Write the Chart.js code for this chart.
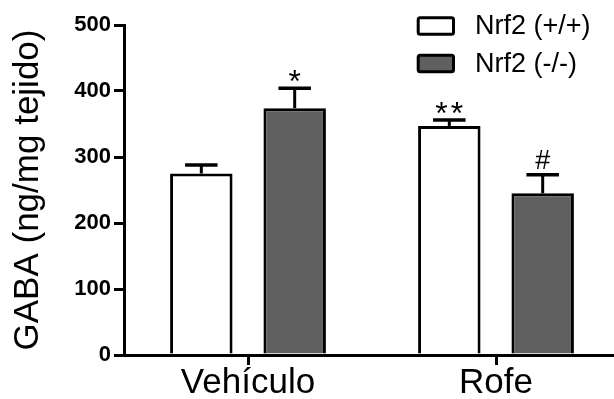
<!DOCTYPE html>
<html>
<head>
<meta charset="utf-8">
<script src="https://cdn.jsdelivr.net/npm/chart.js@4"></script>
<style>
  html, body { margin: 0; padding: 0; background: #ffffff; overflow: hidden; }
  #wrap { width: 614px; height: 399px; overflow: hidden; }
  canvas { display: block; }
</style>
</head>
<body>
<div id="wrap"><canvas id="c" width="620" height="399"></canvas></div>
<script>
// ---- data ----
const categories = ['Vehículo', 'Rofe'];
const seriesLabels = ['Nrf2 (+/+)', 'Nrf2 (-/-)'];
const wildType = [275, 347];
const wildTypeErr = [13, 9];
const knockOut = [374, 245];
const knockOutErr = [30, 28];
const wildTypeMarks = ['', '**'];
const knockOutMarks = ['*', '#'];
const yTicks = [0, 100, 200, 300, 400, 500];
const yTitle = 'GABA (ng/mg tejido)';

const FONT = "'Liberation Sans', Arial, Helvetica, sans-serif";
const errs = [wildTypeErr, knockOutErr];
const marks = [wildTypeMarks, knockOutMarks];

const errorBarPlugin = {
  id: 'errorBars',
  afterDatasetsDraw(chart) {
    const ctx = chart.ctx;
    const y = chart.scales.y;
    ctx.save();
    ctx.strokeStyle = '#000';
    chart.data.datasets.forEach((ds, i) => {
      const meta = chart.getDatasetMeta(i);
      meta.data.forEach((bar, j) => {
        const topPx = y.getPixelForValue(ds.data[j] + errs[i][j]);
        const capHalf = bar.width * 0.26;
        ctx.lineWidth = 3;
        ctx.beginPath();
        ctx.moveTo(bar.x, bar.y);
        ctx.lineTo(bar.x, topPx);
        ctx.stroke();
        ctx.lineWidth = 3.5;
        ctx.beginPath();
        ctx.moveTo(bar.x - capHalf, topPx);
        ctx.lineTo(bar.x + capHalf, topPx);
        ctx.stroke();
        const m = marks[i][j];
        if (m) {
          const size = m === '#' ? 27 : 32;
          ctx.font = size + 'px ' + FONT;
          ctx.fillStyle = '#000';
          ctx.textAlign = 'center';
          ctx.textBaseline = 'alphabetic';
          if ('letterSpacing' in ctx) ctx.letterSpacing = m === '**' ? '3px' : '0px';
          const tm = ctx.measureText(m);
          const aboveBase = -tm.actualBoundingBoxDescent;
          const glyphBottom = topPx - 6;
          const dx = m === '**' ? 1.5 : 0;
          ctx.fillText(m, bar.x + dx, glyphBottom + aboveBase);
          if ('letterSpacing' in ctx) ctx.letterSpacing = '0px';
        }
      });
    });
    ctx.restore();
  }
};

const legendPlugin = {
  id: 'customLegend',
  afterDraw(chart) {
    const ctx = chart.ctx;
    ctx.save();
    const rows = [26, 63.5];
    chart.data.datasets.forEach((ds, i) => {
      const cy = rows[i];
      ctx.fillStyle = ds.backgroundColor;
      ctx.strokeStyle = '#000';
      ctx.lineWidth = 3;
      ctx.beginPath();
      ctx.roundRect(418.2, cy - 8.2, 35.3, 16.4, 2);
      ctx.fill();
      ctx.stroke();
      ctx.fillStyle = '#000';
      ctx.font = '27px ' + FONT;
      ctx.textAlign = 'left';
      ctx.textBaseline = 'middle';
      ctx.fillText(ds.label, 475, cy + 1);
    });
    ctx.restore();
  }
};

new Chart(document.getElementById('c'), {
  type: 'bar',
  data: {
    labels: categories,
    datasets: [
      { label: seriesLabels[0], data: wildType, backgroundColor: '#ffffff', borderColor: '#000000', borderWidth: 3 },
      { label: seriesLabels[1], data: knockOut, backgroundColor: '#5f5f5f', borderColor: '#000000', borderWidth: 3 }
    ]
  },
  options: {
    responsive: false,
    animation: false,
    categoryPercentage: 0.753,
    barPercentage: 0.669,
    layout: { padding: { top: 25, left: 0, right: 0, bottom: 0 } },
    plugins: { legend: { display: false }, tooltip: { enabled: false }, title: { display: false } },
    scales: {
      x: {
        z: 1,
        grid: { display: true, drawOnChartArea: false, drawTicks: true, tickLength: 10, offset: false, color: '#000', lineWidth: 3 },
        border: { display: true, color: '#000', width: 3 },
        ticks: { color: '#000', padding: 1, font: { family: FONT, size: 35, lineHeight: 1 } },
        afterFit(scale) { scale.height = 44; }
      },
      y: {
        z: 1,
        min: 0,
        max: 500,
        afterBuildTicks(scale) { scale.ticks = yTicks.map(v => ({ value: v })); },
        grid: { display: true, drawOnChartArea: false, drawTicks: true, tickLength: 10, color: '#000', lineWidth: 3 },
        border: { display: true, color: '#000', width: 3 },
        ticks: { color: '#000', padding: 3, font: { family: FONT, size: 22, weight: 'bold', lineHeight: 1 } },
        title: { display: true, text: yTitle, color: '#000', padding: { top: 11, bottom: 0 }, font: { family: FONT, size: 35, lineHeight: 1 } },
        afterFit(scale) { scale.width = 124; }
      }
    }
  },
  plugins: [errorBarPlugin, legendPlugin]
});
</script>
</body>
</html>
